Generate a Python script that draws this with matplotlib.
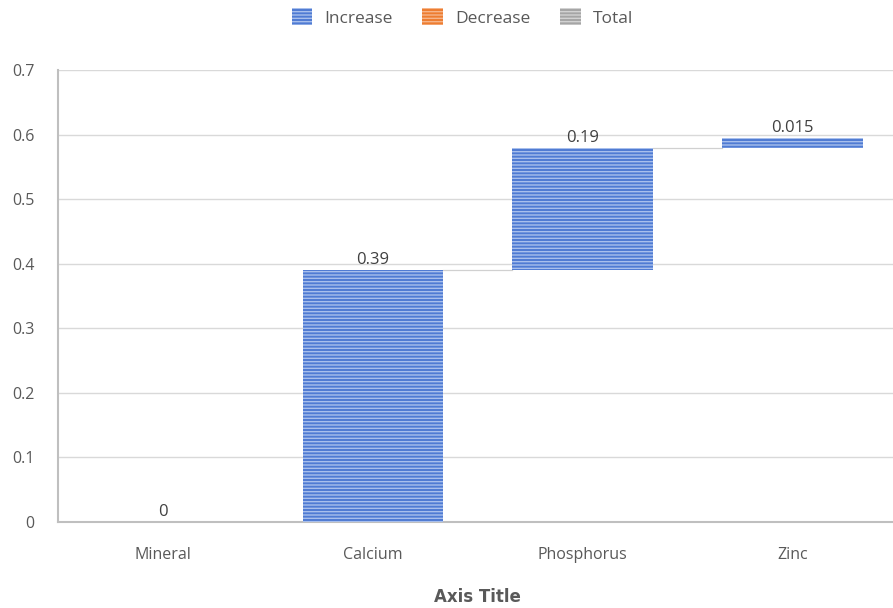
import matplotlib.pyplot as plt
from matplotlib.patches import Patch

categories = ["Mineral", "Calcium", "Phosphorus", "Zinc"]
changes = [0, 0.39, 0.19, 0.015]
labels = ["0", "0.39", "0.19", "0.015"]
yticks = [0, 0.1, 0.2, 0.3, 0.4, 0.5, 0.6, 0.7]
ytick_labels = ["0", "0.1", "0.2", "0.3", "0.4", "0.5", "0.6", "0.7"]

blue = "#4F7BD3"
orange = "#ED7D31"
grey = "#A5A5A5"
text_col = "#595959"

plt.rcParams["font.family"] = ["Open Sans", "DejaVu Sans"]
plt.rcParams["hatch.linewidth"] = 1.0

fig = plt.figure(figsize=(8.93, 6.08), dpi=100)
ax = fig.add_axes([0.065, 0.1414, 0.94, 0.743])

# running totals for the waterfall
bottoms = []
total = 0
for c in changes:
    bottoms.append(total)
    total += c
tops = [b + c for b, c in zip(bottoms, changes)]

x = list(range(len(categories)))
plt.rcParams["hatch.color"] = "#A8BFEC"
ax.bar(x, changes, bottom=bottoms, width=0.67, color=blue, hatch="-----",
       linewidth=0, zorder=3)

# connector lines between bars
for i in range(len(x) - 1):
    if changes[i] == 0:
        continue
    ax.plot([x[i] + 0.335, x[i + 1] - 0.335], [tops[i], tops[i]],
            color="#D0D0D0", lw=0.9, zorder=2)

for xi, t, lab in zip(x, tops, labels):
    ax.text(xi, t + 0.003, lab, ha="center", va="bottom", fontsize=12,
            color="#404040", zorder=4)

ax.set_xlim(-0.5, 3.5)
ax.set_ylim(0, 0.7)
ax.set_yticks(yticks)
ax.set_yticklabels(ytick_labels)
ax.set_xticks(x)
ax.set_xticklabels(categories)
ax.tick_params(axis="both", length=0, labelsize=11.5, labelcolor=text_col, pad=18)
ax.tick_params(axis="y", pad=17)
ax.yaxis.grid(True, color="#D9D9D9", lw=1, zorder=0)
for s in ["top", "right"]:
    ax.spines[s].set_visible(False)
ax.spines["left"].set_color("#BFBFBF")
ax.spines["bottom"].set_color("#BFBFBF")
ax.spines["left"].set_linewidth(1.5)
ax.spines["bottom"].set_linewidth(1.5)

ax.set_xlabel("Axis Title", fontsize=12, fontweight="bold", color=text_col,
              labelpad=18, family=["DejaVu Sans Condensed", "DejaVu Sans"])

handles = [
    Patch(facecolor=blue, hatch="-----", edgecolor="#A8BFEC", lw=0, label="Increase"),
    Patch(facecolor=orange, hatch="-----", edgecolor="#F6B58A", lw=0, label="Decrease"),
    Patch(facecolor=grey, hatch="-----", edgecolor="#D2D2D2", lw=0, label="Total"),
]
fig.legend(handles=handles, loc="upper center", bbox_to_anchor=(0.518, 1.012),
           ncol=3, frameon=False, fontsize=12.5, labelcolor=text_col,
           handlelength=1.2, handleheight=1.1, handletextpad=0.7,
           columnspacing=1.7)

fig.savefig("out.png", dpi=100)
